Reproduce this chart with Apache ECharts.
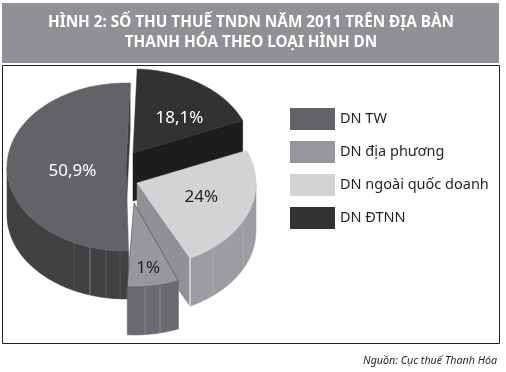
<!DOCTYPE html>
<html><head><meta charset="utf-8">
<style>html,body{margin:0;padding:0;background:#fff}#c{width:506px;height:372px}</style>
<script src="https://cdn.jsdelivr.net/npm/echarts@6/dist/echarts.min.js"></script>
</head><body><div id="c"></div>
<script>
// Data.
const categories = ['DN TW', 'DN địa phương', 'DN ngoài quốc doanh', 'DN ĐTNN'];
// Printed labels. The grey slice is printed "1%" but is drawn at about 7% (the remainder of 100%),
// so the wedge size uses 7 while its printed label stays as in the source.
const printedLabels = ['50,9%', '1%', '24%', '18,1%'];
const shares = [50.9, 7, 24, 18.1];

// Styles and layout
const topColors  = ['#626366', '#96989b', '#d1d3d4', '#333133'];
const wallColors = ['#414042', '#6a6b6e', '#9b9da0', '#231f20'];
const cutColors  = ['#3c3b3d', '#6a6b6e', '#8f9194', '#1f1c1d'];
const labelColors = ['#fff', '#231f20', '#231f20', '#fff'];
const apexes = [[126, 167], [134, 203], [137, 183], [133, 153]];
const sliceTurn = [0, -4.5, 0, 0];
const labelShift = [[-0.45, 0.05], [0.12, 0.77], [0.54, 0.17], [0.39, -0.42]];
const facets = [
  [[-52, 0.1], [-36, 0.35], [-20, 0.14], [-6, 0.14]],
  [[11, 0.22], [26, 0.22]],
  [[76, 0.1], [91, 0.06], [106, 0.1]],
  []
];
const drawOrder = [0, 3, 2, 1];
const startAngle = 88, rx = 119, ry = 84, depth = 48;

// Each slice's sweep comes from the shares, clockwise from the top
const order = [3, 2, 1, 0];
const total = shares.reduce((a, b) => a + b, 0);
const sweep = {};
let cursor = startAngle;
order.forEach(i => {
  const d = shares[i] / total * 360;
  sweep[i] = [cursor + sliceTurn[i], cursor - d + sliceTurn[i]];
  cursor -= d;
});

function pt(c, deg, dz) {
  const r = deg * Math.PI / 180;
  return [c[0] + rx * Math.cos(r), c[1] - ry * Math.sin(r) + (dz || 0)];
}
function arc(c, a0, a1, dz) {
  const out = [], n = Math.max(2, Math.ceil(Math.abs(a1 - a0) / 2));
  for (let k = 0; k <= n; k++) out.push(pt(c, a0 + (a1 - a0) * k / n, dz));
  return out;
}
function renderSlice(params, api) {
  const i = api.value(0);
  const c = apexes[i];
  const [a0, a1] = sweep[i];
  const kids = [];
  const poly = (points, fill, stroke, w) => kids.push({ type: 'polygon', shape: { points },
    style: { fill, stroke: stroke || fill, lineWidth: w === undefined ? 0.5 : w } });
  const low = [c[0], c[1] + depth];
  const faces = a => Math.sin(a * Math.PI / 180) < 0;
  // cut faces, only where they turn toward the viewer
  if (faces(a0 + 90)) poly([c, pt(c, a0), pt(c, a0, depth), low], cutColors[i]);
  if (faces(a1 - 90)) poly([c, pt(c, a1), pt(c, a1, depth), low], cutColors[i]);
  // outer wall: the part of the arc in the lower half
  const s = Math.min(a0, 0), e = Math.max(a1, -180);
  if (s > e) {
    poly(arc(c, s, e, 0).concat(arc(c, e, s, depth)), wallColors[i]);
    facets[i].forEach(([dx, op]) => {
      const f = -Math.acos(dx / rx) * 180 / Math.PI;
      kids.push({ type: 'line',
        shape: { x1: pt(c, f)[0], y1: pt(c, f)[1], x2: pt(c, f, depth)[0], y2: pt(c, f, depth)[1] },
        style: { stroke: '#ffffff', opacity: op, lineWidth: 1 } });
    });
  }
  // top face
  poly([c].concat(arc(c, a0, a1, 0)), topColors[i], i === 1 ? '#4a4a4c' : topColors[i], i === 1 ? 0.6 : 0.5);
  // white highlight on the front corner of the light slice
  if (i === 2) kids.push({ type: 'line',
    shape: { x1: pt(c, a1)[0], y1: pt(c, a1)[1], x2: pt(c, a1, depth)[0], y2: pt(c, a1, depth)[1] },
    style: { stroke: '#fff', lineWidth: 1 } });
  // label
  kids.push({ type: 'text', style: {
    text: printedLabels[i], x: c[0] + rx * labelShift[i][0], y: c[1] + ry * labelShift[i][1],
    align: 'center', verticalAlign: 'middle', fill: labelColors[i],
    font: '17px "Noto Sans"' } });
  return { type: 'group', children: kids };
}

const chart = echarts.init(document.getElementById('c'), null, { renderer: 'canvas' });
chart.setOption({
  animation: false,
  backgroundColor: '#fff',
  title: [
    { text: 'HÌNH 2: SỐ THU THUẾ TNDN NĂM 2011 TRÊN ĐỊA BÀN\nTHANH HÓA THEO LOẠI HÌNH DN',
      left: 246, top: 8, textAlign: 'center',
      textStyle: { color: '#fff', fontFamily: 'Noto Sans', fontWeight: 'bold', fontSize: 15.3, lineHeight: 20 } },
    { text: 'Nguồn: Cục thuế Thanh Hóa', right: 4, top: 350,
      textStyle: { color: '#231f20', fontFamily: 'Noto Sans', fontStyle: 'italic', fontWeight: 'normal', fontSize: 10.7 } }
  ],
  graphic: [
    { type: 'rect', z: -1, shape: { x: 2, y: 3, width: 497, height: 60 }, style: { fill: '#8f9194' } },
    { type: 'rect', z: -1, shape: { x: 2.5, y: 65.5, width: 497, height: 278 }, style: { fill: '#fff', stroke: '#231f20', lineWidth: 1 } }
  ],
  legend: {
    orient: 'vertical', left: 285, top: 103, itemWidth: 45, itemHeight: 22, itemGap: 11, icon: 'rect',
    data: categories.map((name, i) => ({ name, itemStyle: { color: topColors[i] } })),
    textStyle: { color: '#231f20', fontFamily: 'Noto Sans', fontSize: 14.5 }, selectedMode: false
  },
  xAxis: { show: false }, yAxis: { show: false },
  series: drawOrder.map(i => ({
    type: 'custom', name: categories[i], coordinateSystem: 'none', silent: true,
    itemStyle: { color: topColors[i] },
    encode: { value: 1 },
    data: [[i, shares[i]]],
    renderItem: renderSlice
  }))
});
</script></body></html>
